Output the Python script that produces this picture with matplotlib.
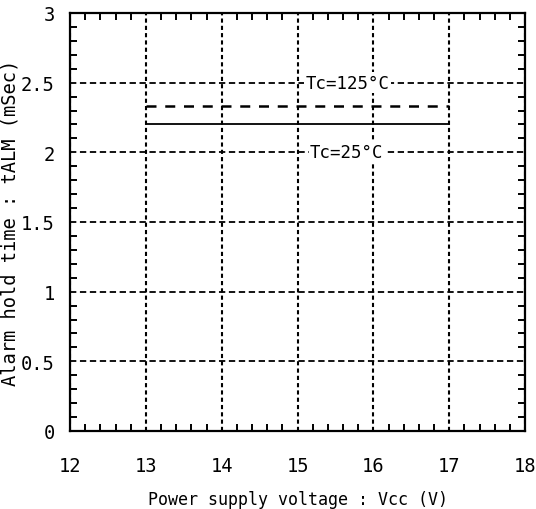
import numpy as np
import matplotlib.pyplot as plt
from matplotlib.ticker import MultipleLocator

plt.rcParams['font.family'] = ['DejaVu Sans Mono', 'DejaVu Sans']

vcc = [13, 17]
t_125 = [2.33, 2.33]
t_25 = [2.2, 2.2]
xticks = [12, 13, 14, 15, 16, 17, 18]
yticks = [0, 0.5, 1, 1.5, 2, 2.5, 3]
ytick_labels = ["0", "0.5", "1", "1.5", "2", "2.5", "3"]

fig = plt.figure(figsize=(5.36, 5.10), dpi=100)
ax = fig.add_axes([0.1306, 0.153, 0.849, 0.8196])

ax.plot(vcc, t_125, color="black", lw=1.8, ls=(0, (4, 3.5)))
ax.plot(vcc, t_25, color="black", lw=1.3, ls="-")

ax.set_xlim(12, 18)
ax.set_ylim(0, 3)
ax.set_xticks(xticks)
ax.set_yticks(yticks)
ax.set_yticklabels(ytick_labels)
ax.xaxis.set_minor_locator(MultipleLocator(0.2))
ax.yaxis.set_minor_locator(MultipleLocator(0.1))
ax.tick_params(which="both", direction="in", top=True, right=True, labelsize=13.5, width=1.4)
ax.tick_params(which="major", length=0)
ax.tick_params(axis="x", which="major", pad=18)
ax.tick_params(axis="y", which="major", pad=11)
ax.tick_params(which="minor", length=5)
ax.xaxis.grid(True, which="major", color="black", lw=1.5, ls=(0, (2, 1.5)))
ax.yaxis.grid(True, which="major", color="black", lw=1.3, ls=(0, (3.5, 2)))
for s in ax.spines.values():
    s.set_linewidth(1.6)

ax.text(15.66, 2.5, "Tc=125°C", ha="center", va="center", fontsize=12.5,
        bbox=dict(fc="white", ec="none", pad=1))
ax.text(15.65, 2.0, "Tc=25°C", ha="center", va="center", fontsize=12.5,
        bbox=dict(fc="white", ec="none", pad=1))

ax.set_xlabel("Power supply voltage : Vcc (V)", fontsize=12, labelpad=11)
ax.set_ylabel("Alarm hold time : tALM (mSec)", fontsize=13.5, labelpad=1)

fig.savefig("out.png", dpi=100)
